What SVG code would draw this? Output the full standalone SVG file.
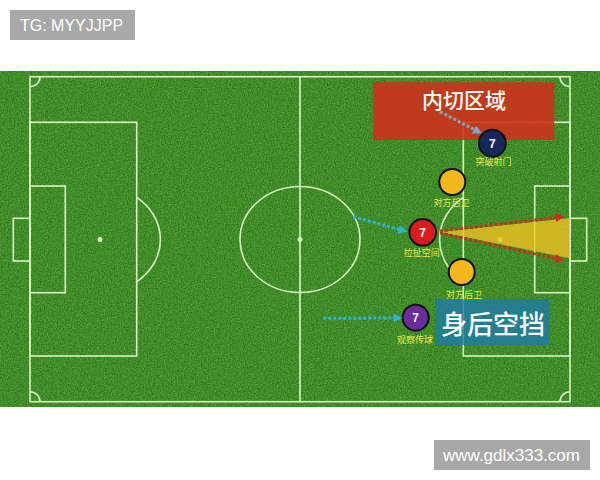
<svg xmlns="http://www.w3.org/2000/svg" width="600" height="480" viewBox="0 0 600 480">
<style>
.line{fill:none;stroke:#d9f2c4;stroke-width:1.6}
.spot{fill:#d9f2c4}
.tag{fill:#a8a8a8}
.tagtxt{font-family:"Liberation Sans",Arial,sans-serif;fill:#ffffff}
.num{font-family:"Liberation Sans",Arial,sans-serif;font-size:12px;font-weight:bold;fill:#ffffff;text-anchor:middle}
.lbl{font-family:"Noto Sans CJK SC","Noto Sans",sans-serif;font-size:9px;fill:#ece64a;text-anchor:middle}
.big{font-family:"Noto Sans CJK SC","Noto Sans",sans-serif;font-weight:500;fill:#ffffff;text-anchor:middle}
.pl{stroke:#111111;stroke-width:2}
.cy{fill:none;stroke:#2fb4d4;stroke-width:3;stroke-dasharray:3 2}
.rd{fill:none;stroke:#c8301e;stroke-width:3;stroke-dasharray:3 2}
</style>
<defs>
<filter id="grain" x="0" y="0" width="100%" height="100%" color-interpolation-filters="sRGB">
<feTurbulence type="fractalNoise" baseFrequency="0.7" numOctaves="2" seed="4"/>
<feColorMatrix type="matrix" values="0.2 0 0 0 0.15  0.3 0 0 0 0.4  0.12 0 0 0 0.1  0 0 0 0 1"/>
</filter>
<marker id="ac" viewBox="0 0 10 10" refX="5" refY="5" markerWidth="3" markerHeight="3" orient="auto" markerUnits="strokeWidth">
<path d="M0,0 L10,5 L0,10 Z" fill="#2fb4d4"/>
</marker>
<marker id="ag" viewBox="0 0 10 10" refX="5" refY="5" markerWidth="3" markerHeight="3" orient="auto" markerUnits="strokeWidth">
<path d="M0,0 L10,5 L0,10 Z" fill="#7fa6c8"/>
</marker>
<marker id="ar" viewBox="0 0 10 10" refX="5" refY="5" markerWidth="3" markerHeight="3" orient="auto" markerUnits="strokeWidth">
<path d="M0,0 L10,5 L0,10 Z" fill="#c8301e"/>
</marker>
</defs>
<rect width="600" height="480" fill="#ffffff"/>
<g id="tag-top">
<rect class="tag" x="10" y="10" width="125" height="30"/>
<text class="tagtxt" x="20" y="31" font-size="16">TG: MYYJJPP</text>
</g>
<g id="pitch">
<rect x="0" y="71" width="600" height="336" fill="#3f8a2c" filter="url(#grain)"/>
<rect x="30" y="76.7" width="540" height="325" class="line"/>
<line x1="300" y1="76.7" x2="300" y2="401.7" class="line"/>
<ellipse cx="300" cy="239.5" rx="60" ry="53" class="line"/>
<circle cx="300" cy="239.5" r="2.5" class="spot"/>
<rect x="30" y="122.3" width="106.7" height="233.7" class="line"/>
<rect x="30" y="186" width="35.3" height="106.7" class="line"/>
<rect x="13.3" y="218.3" width="16.7" height="42.7" class="line"/>
<circle cx="100" cy="239.5" r="2.5" class="spot"/>
<path d="M136.7,197.3 A60,53 0 0 1 136.7,281.7" class="line"/>
<rect x="463.3" y="122.3" width="106.7" height="233.7" class="line"/>
<rect x="534.7" y="186" width="35.3" height="106.7" class="line"/>
<rect x="570" y="218.3" width="16.7" height="42.7" class="line"/>
<circle cx="500" cy="239.5" r="2.5" class="spot"/>
<path d="M463.3,197.3 A60,53 0 0 0 463.3,281.7" class="line"/>
<path d="M30,86.7 A10,10 0 0 0 40,76.7" class="line"/>
<path d="M560,76.7 A10,10 0 0 0 570,86.7" class="line"/>
<path d="M40,401.7 A10,10 0 0 0 30,391.7" class="line"/>
<path d="M570,391.7 A10,10 0 0 0 560,401.7" class="line"/>
</g>
<g id="zone-cut-in">
<rect x="373.3" y="82.3" width="181" height="57.7" fill="#d0301a" opacity="0.88"/>
<text class="big" x="464" y="107.5" font-size="21">内切区域</text>
</g>
<g id="zone-behind">
<rect x="435" y="299.3" width="114.3" height="45.7" fill="#1f7aa8" opacity="0.8"/>
<text class="big" x="493" y="334" font-size="26">身后空挡</text>
</g>
<g id="space-cone">
<polygon points="440,232 570,218 570,258.3" fill="#f0c020" opacity="0.8"/>
</g>
<g id="connectors">
<line x1="440" y1="111.7" x2="478" y2="131.5" class="cy" style="stroke:#7fa6c8" marker-end="url(#ag)"/>
<line x1="353.3" y1="216.7" x2="403" y2="230.5" class="cy" marker-end="url(#ac)"/>
<line x1="323.3" y1="318.3" x2="398" y2="318" class="cy" marker-end="url(#ac)"/>
<line x1="440" y1="231" x2="560" y2="217" class="rd" marker-end="url(#ar)"/>
<line x1="440" y1="233" x2="560" y2="259.5" class="rd" marker-end="url(#ar)"/>
</g>
<g id="p-shoot">
<circle cx="492.3" cy="143.3" r="13.5" fill="#15275c" class="pl"/>
<text class="num" x="492.3" y="147.6">7</text>
<text class="lbl" x="493.5" y="165">突破射门</text>
</g>
<g id="def-top">
<circle cx="452.3" cy="182" r="13" fill="#f5b81c" class="pl"/>
<text class="lbl" x="451.5" y="206">对方后卫</text>
</g>
<g id="p-pull">
<circle cx="422.7" cy="232.3" r="13.3" fill="#dc1c1c" class="pl"/>
<text class="num" x="422.7" y="236.6">7</text>
<text class="lbl" x="421.7" y="255.5">拉扯空间</text>
</g>
<g id="def-bottom">
<circle cx="461.7" cy="272" r="13" fill="#f5b81c" class="pl"/>
<text class="lbl" x="464" y="298">对方后卫</text>
</g>
<g id="p-watch">
<circle cx="415.7" cy="317.7" r="13" fill="#6b2d9c" class="pl"/>
<text class="num" x="415.7" y="322">7</text>
<text class="lbl" x="415" y="343.3">观察传球</text>
</g>
<g id="tag-bottom">
<rect class="tag" x="434" y="440" width="156" height="30"/>
<text class="tagtxt" x="511.5" y="461" font-size="17" text-anchor="middle">www.gdlx333.com</text>
</g>
</svg>
